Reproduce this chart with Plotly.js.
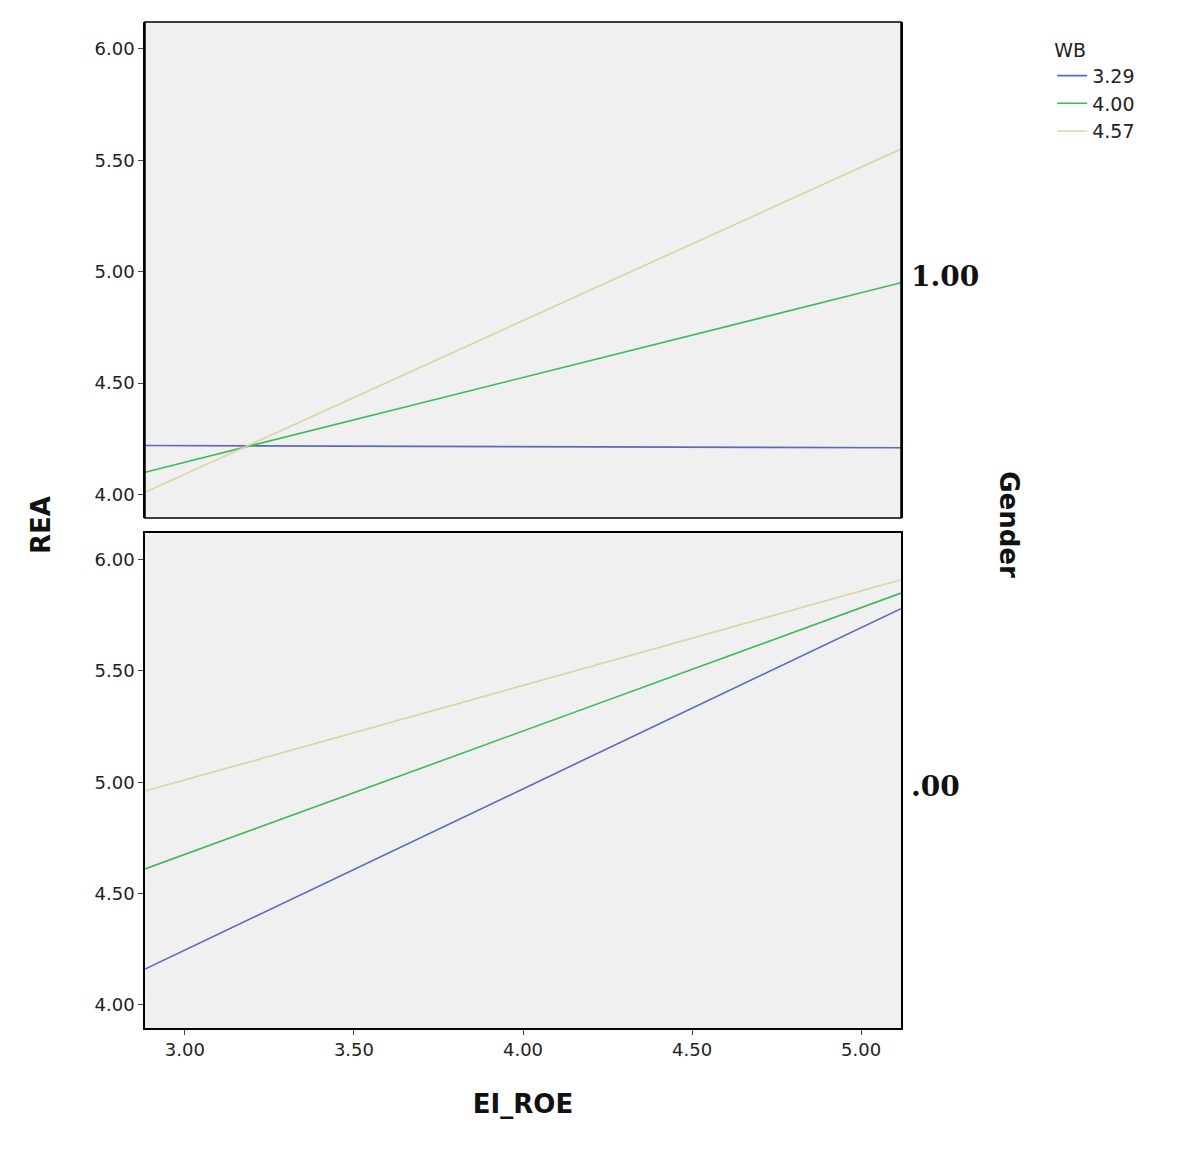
<!DOCTYPE html>
<html>
<head>
<meta charset="utf-8">
<script src="https://cdn.plot.ly/plotly-3.0.1.min.js"></script>
<style>body{margin:0;background:#fff}</style>
</head>
<body>
<div id="chart" style="width:1200px;height:1154px"></div>
<script>
// WB levels and fitted line ends (EI_ROE at left/right edge)
const wbLevels = ['3.29', '4.00', '4.57'];
const colors = ['#5a6bbd', '#3cba58', '#d9d4a2'];
const xEnds = [2.882, 5.118];

// Gender = 1.00 (top panel)
const top329 = [4.22, 4.21];
const top400 = [4.10, 4.95];
const top457 = [4.01, 5.55];
// Gender = .00 (bottom panel)
const bot329 = [4.16, 5.78];
const bot400 = [4.61, 5.85];
const bot457 = [4.96, 5.91];

const topSeries = [top329, top400, top457];
const botSeries = [bot329, bot400, bot457];

var data = [];
topSeries.forEach((y, i) => data.push({
  x: xEnds, y: y, type: 'scatter', mode: 'lines', name: wbLevels[i],
  line: {color: colors[i], width: 1.6}, xaxis: 'x', yaxis: 'y'
}));
botSeries.forEach((y, i) => data.push({
  x: xEnds, y: y, type: 'scatter', mode: 'lines', name: wbLevels[i], showlegend: false,
  line: {color: colors[i], width: 1.6}, xaxis: 'x', yaxis: 'y2'
}));

const tickFont = {family: 'DejaVu Sans', size: 18, color: '#222'};
const yCommon = {
  range: [3.895, 6.12], tickvals: [4, 4.5, 5, 5.5, 6], ticktext: ['4.00', '4.50', '5.00', '5.50', '6.00'],
  ticks: 'outside', ticklen: 5, showgrid: false, zeroline: false, showline: true, mirror: true,
  linecolor: '#000', linewidth: 1.5, tickfont: tickFont
};

var layout = {
  width: 1200, height: 1154,
  margin: {l: 145, r: 299, t: 22, b: 126},
  paper_bgcolor: '#fff', plot_bgcolor: '#f0f0f0',
  showlegend: true,
  legend: {x: 1.2, y: 0.99, xanchor: 'left', yanchor: 'top',
    title: {text: 'WB', font: {family: 'DejaVu Sans', size: 19}},
    font: {family: 'DejaVu Sans', size: 19, color: '#222'}, tracegroupgap: 0},
  xaxis: {
    range: [2.882, 5.118], tickvals: [3, 3.5, 4, 4.5, 5], ticktext: ['3.00', '3.50', '4.00', '4.50', '5.00'],
    ticks: 'outside', ticklen: 5, showgrid: false, zeroline: false, showline: true, mirror: true,
    linecolor: '#000', linewidth: 1.5, tickfont: tickFont, anchor: 'y2',
    title: {text: '<b>EI_ROE</b>', font: {family: 'DejaVu Sans', size: 26, color: '#111'}, standoff: 35}
  },
  yaxis: Object.assign({}, yCommon, {domain: [0.507, 1], anchor: 'x'}),
  yaxis2: Object.assign({}, yCommon, {domain: [0, 0.492], anchor: 'x'}),
  shapes: [
    {type: 'rect', xref: 'paper', yref: 'paper', x0: 0, x1: 1, y0: 0.507, y1: 1, line: {color: '#000', width: 1.5}}
  ],
  annotations: [
    {text: '<b>REA</b>', xref: 'paper', yref: 'paper', x: -0.16, y: 0.5, showarrow: false, textangle: -90,
      font: {family: 'DejaVu Sans', size: 26, color: '#111'}},
    {text: '<b>Gender</b>', xref: 'paper', yref: 'paper', x: 1.165, y: 0.5, showarrow: false, textangle: 90,
      font: {family: 'DejaVu Sans', size: 26, color: '#111'}},
    {text: '<b>1.00</b>', xref: 'paper', yref: 'y', x: 1.01, y: 4.98, xanchor: 'left', showarrow: false,
      font: {family: 'DejaVu Serif', size: 28, color: '#111'}},
    {text: '<b>.00</b>', xref: 'paper', yref: 'y2', x: 1.01, y: 4.98, xanchor: 'left', showarrow: false,
      font: {family: 'DejaVu Serif', size: 28, color: '#111'}}
  ]
};

Plotly.newPlot('chart', data, layout, {displayModeBar: false});
</script>
</body>
</html>
